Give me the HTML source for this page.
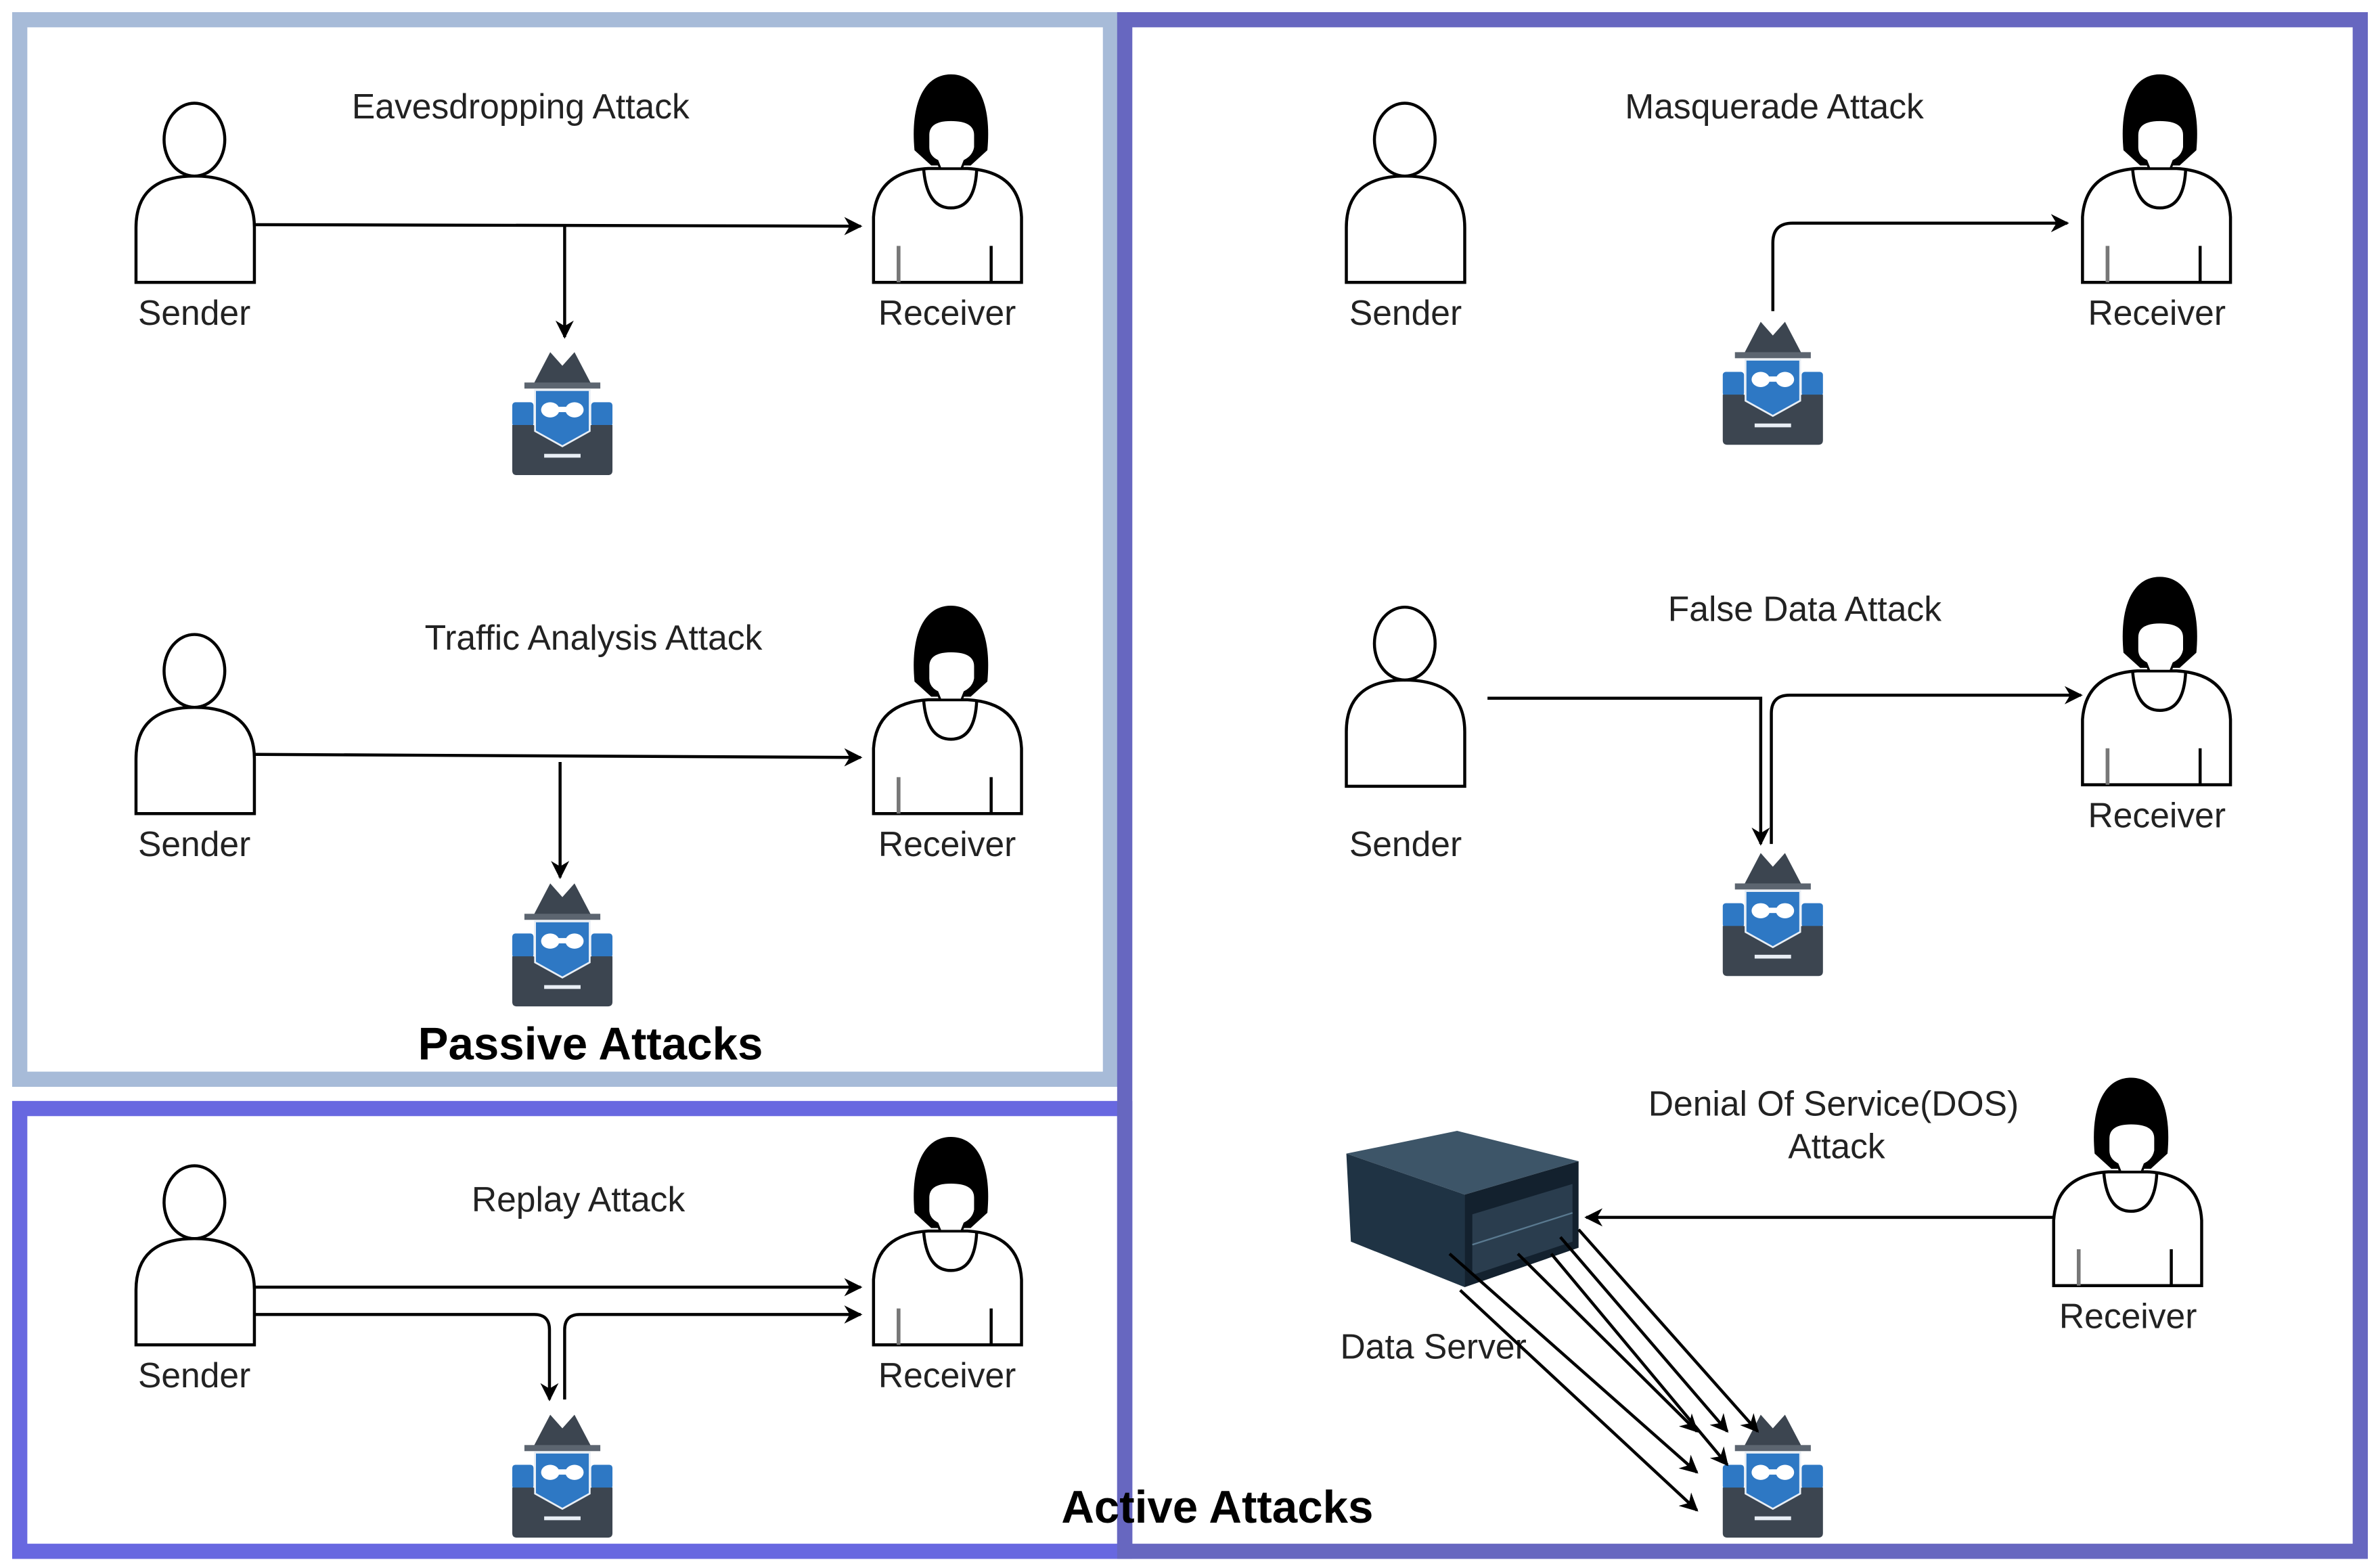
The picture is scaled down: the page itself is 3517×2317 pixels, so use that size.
<!DOCTYPE html>
<html><head><meta charset="utf-8"><style>
html,body{margin:0;padding:0;background:#fff;}
svg{display:block;}
text{font-family:"Liberation Sans",Arial,sans-serif;fill:#222;}
</style></head><body>
<svg width="3517" height="2317" viewBox="0 0 1568 1033" xmlns="http://www.w3.org/2000/svg">
<defs>
<marker id="ar" viewBox="0 0 10 10" refX="9" refY="5" markerWidth="12" markerHeight="12" markerUnits="userSpaceOnUse" orient="auto">
<path d="M0,0 L10,5 L0,10 L3,5 Z" fill="#000"/>
</marker>
<g id="snd">
<path d="M0,118 V82 Q0,48 38.5,48 Q78,48 78,82 V118 Z" fill="#fff" stroke="#000" stroke-width="2"/>
<ellipse cx="38.5" cy="24" rx="20" ry="24" fill="#fff" stroke="#000" stroke-width="2"/>
</g>
<g id="rcv">
<path d="M0,137 V94 Q2,64 36,62 L62,62 Q96,64 97.5,94 V137 Z" fill="#fff" stroke="#000" stroke-width="2"/>
<path d="M33,62 Q35,88 51,88 Q67,88 68,62" fill="none" stroke="#000" stroke-width="2"/>
<path d="M27,50 C24,18 34,0 51,0 C68,0 78,18 75,50 L64,60 L38,60 Z" fill="#000"/>
<path d="M36,40 Q36,30 51,30 Q67,30 67,40 L67,48 Q66,54 60,57 L58,62 L44,62 L42,57 Q36,54 36,48 Z" fill="#fff" stroke="#000" stroke-width="1.5"/>
<line x1="16.5" y1="113" x2="16.5" y2="137" stroke="#777" stroke-width="2.5"/>
<line x1="77.5" y1="113" x2="77.5" y2="137" stroke="#000" stroke-width="2"/>
</g>
<g id="hk">
<path d="M14,21 L25,0 L33,9 L41,0 L52,21 Z" fill="#3c4550"/>
<rect x="8" y="20" width="50" height="4" fill="#5c6570"/>
<rect x="0" y="33" width="14" height="16" rx="2" fill="#2e78c4"/>
<rect x="52" y="33" width="14" height="16" rx="2" fill="#2e78c4"/>
<path d="M0,48 H14 L33,59 L52,48 H66 V78 Q66,81 63,81 H3 Q0,81 0,78 Z" fill="#3c4550"/>
<path d="M15,25 H51 V52 L33,62 L15,52 Z" fill="#2e78c4" stroke="#e8eef5" stroke-width="1.2"/>
<ellipse cx="25" cy="38" rx="6" ry="5" fill="#fff"/>
<ellipse cx="41" cy="38" rx="6" ry="5" fill="#fff"/>
<rect x="25" y="36" width="16" height="3.5" fill="#fff"/>
<rect x="21" y="67" width="24" height="2.5" fill="#e8eef5"/>
</g>
</defs>

<rect x="13" y="13" width="718.6" height="698" fill="none" stroke="#a7bbd8" stroke-width="10"/>
<rect x="13" y="730.3" width="728" height="291.7" fill="none" stroke="#6868e0" stroke-width="10"/>
<rect x="741" y="13" width="814" height="1009" fill="none" stroke="#6767c0" stroke-width="10"/>

<use href="#snd" x="89.6" y="68"/>
<use href="#rcv" x="575.5" y="49"/>
<use href="#hk" x="337.5" y="232"/>
<text x="343" y="70" font-size="23" text-anchor="middle" dominant-baseline="central">Eavesdropping Attack</text>
<text x="128" y="206" font-size="23" text-anchor="middle" dominant-baseline="central">Sender</text>
<text x="624" y="206" font-size="23" text-anchor="middle" dominant-baseline="central">Receiver</text>
<line x1="167" y1="148" x2="567" y2="149" stroke="#000" stroke-width="2" marker-end="url(#ar)"/>
<line x1="372" y1="148" x2="372" y2="222" stroke="#000" stroke-width="2" marker-end="url(#ar)"/>

<use href="#snd" x="89.6" y="418"/>
<use href="#rcv" x="575.5" y="399"/>
<use href="#hk" x="337.5" y="582"/>
<text x="391" y="420" font-size="23" text-anchor="middle" dominant-baseline="central">Traffic Analysis Attack</text>
<text x="128" y="556" font-size="23" text-anchor="middle" dominant-baseline="central">Sender</text>
<text x="624" y="556" font-size="23" text-anchor="middle" dominant-baseline="central">Receiver</text>
<line x1="167" y1="497" x2="567" y2="499" stroke="#000" stroke-width="2" marker-end="url(#ar)"/>
<line x1="369" y1="502" x2="369" y2="578" stroke="#000" stroke-width="2" marker-end="url(#ar)"/>
<text x="389" y="688" font-size="30" font-weight="bold" text-anchor="middle" dominant-baseline="central" style="fill:#000">Passive Attacks</text>

<use href="#snd" x="89.6" y="768"/>
<use href="#rcv" x="575.5" y="749"/>
<use href="#hk" x="337.5" y="932"/>
<text x="381" y="790" font-size="23" text-anchor="middle" dominant-baseline="central">Replay Attack</text>
<text x="128" y="906" font-size="23" text-anchor="middle" dominant-baseline="central">Sender</text>
<text x="624" y="906" font-size="23" text-anchor="middle" dominant-baseline="central">Receiver</text>
<line x1="167" y1="848" x2="567" y2="848" stroke="#000" stroke-width="2" marker-end="url(#ar)"/>
<path d="M167,866 H352 Q362,866 362,876 V922" fill="none" stroke="#000" stroke-width="2" marker-end="url(#ar)"/>
<path d="M372,922 V876 Q372,866 382,866 H567" fill="none" stroke="#000" stroke-width="2" marker-end="url(#ar)"/>
<text x="802" y="993" font-size="30" font-weight="bold" text-anchor="middle" dominant-baseline="central" style="fill:#000">Active Attacks</text>

<use href="#snd" x="887" y="68"/>
<use href="#rcv" x="1372" y="49"/>
<use href="#hk" x="1135" y="212"/>
<text x="1169" y="70" font-size="23" text-anchor="middle" dominant-baseline="central">Masquerade Attack</text>
<text x="926" y="206" font-size="23" text-anchor="middle" dominant-baseline="central">Sender</text>
<text x="1421" y="206" font-size="23" text-anchor="middle" dominant-baseline="central">Receiver</text>
<path d="M1168,205 V160 Q1168,147 1181,147 H1362" fill="none" stroke="#000" stroke-width="2" marker-end="url(#ar)"/>

<use href="#snd" x="887" y="400"/>
<use href="#rcv" x="1372" y="380"/>
<use href="#hk" x="1135" y="562"/>
<text x="1189" y="401" font-size="23" text-anchor="middle" dominant-baseline="central">False Data Attack</text>
<text x="926" y="556" font-size="23" text-anchor="middle" dominant-baseline="central">Sender</text>
<text x="1421" y="537" font-size="23" text-anchor="middle" dominant-baseline="central">Receiver</text>
<path d="M980,460 H1160 V556" fill="none" stroke="#000" stroke-width="2" marker-end="url(#ar)"/>
<path d="M1167,556 V470 Q1167,458 1179,458 H1371" fill="none" stroke="#000" stroke-width="2" marker-end="url(#ar)"/>

<use href="#rcv" x="1353" y="710"/>
<use href="#hk" x="1135" y="932"/>
<text x="1208" y="727" font-size="23" text-anchor="middle" dominant-baseline="central">Denial Of Service(DOS)</text>
<text x="1210" y="755" font-size="23" text-anchor="middle" dominant-baseline="central">Attack</text>
<text x="1402" y="867" font-size="23" text-anchor="middle" dominant-baseline="central">Receiver</text>
<polygon points="887,760 960,745 1040,765 965,787" fill="#3d5568"/>
<polygon points="965,787 1040,765 1040,822 965,848" fill="#13212e"/>
<polygon points="887,760 965,787 965,848 890,818" fill="#1f3344"/>
<polygon points="970,800 1036,780 1036,818 970,840" fill="#2a3d4e"/>
<line x1="970" y1="820" x2="1036" y2="799" stroke="#5a7a90" stroke-width="1"/>
<text x="883" y="887" font-size="23" dominant-baseline="central">Data Server</text>
<line x1="1353" y1="802" x2="1045" y2="802" stroke="#000" stroke-width="2" marker-end="url(#ar)"/>
<g stroke="#000" stroke-width="2" marker-end="url(#ar)">
<line x1="962" y1="850" x2="1118" y2="995"/>
<line x1="955" y1="826" x2="1118" y2="970"/>
<line x1="1000" y1="826" x2="1118" y2="943"/>
<line x1="1022" y1="826" x2="1138" y2="965"/>
<line x1="1028" y1="815" x2="1138" y2="943"/>
<line x1="1040" y1="810" x2="1158" y2="943"/>
</g>
</svg>
</body></html>
